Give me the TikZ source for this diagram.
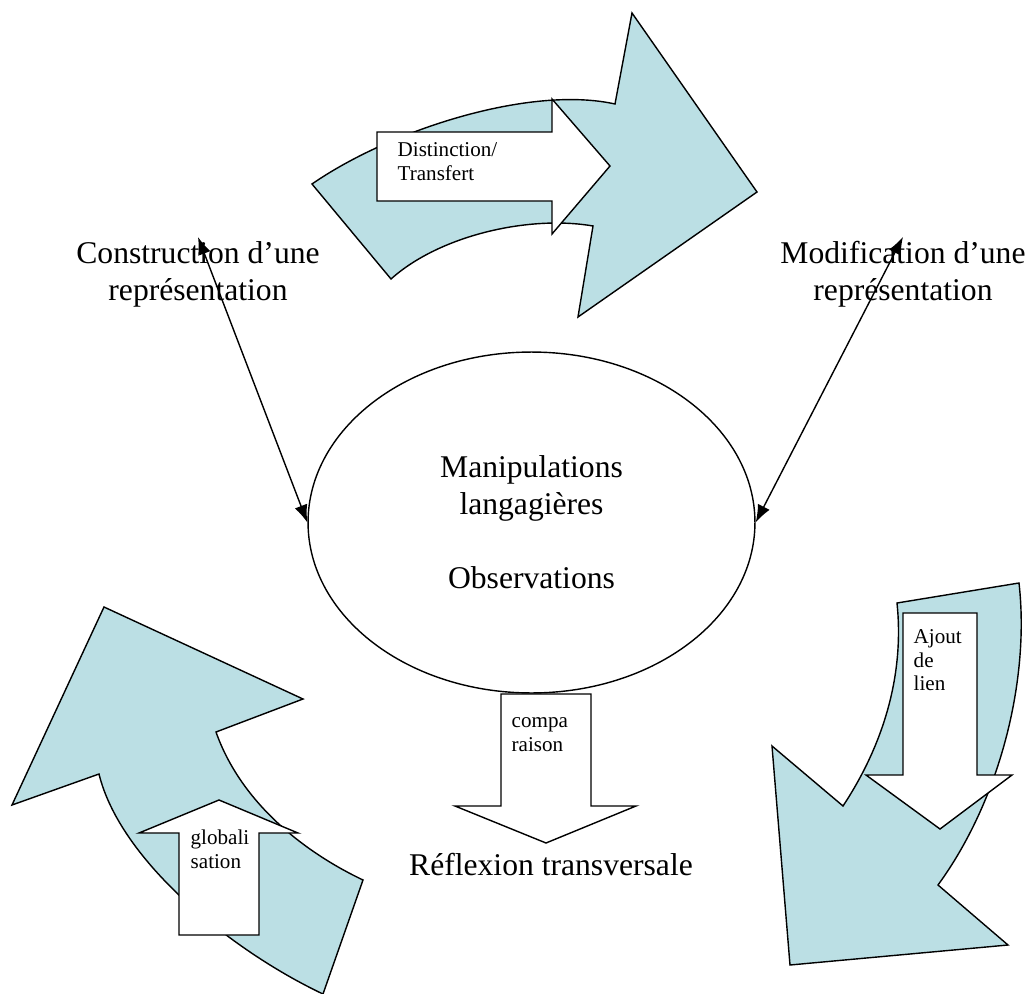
\documentclass[tikz,border=0pt]{standalone}
\usepackage{fontspec}
\setmainfont{Liberation Serif}
\usetikzlibrary{shapes.geometric, arrows.meta}
\definecolor{bandblue}{RGB}{187,223,228}

\begin{document}
\begin{tikzpicture}[x=0.02cm, y=-0.02cm, line width=0.8pt, line join=miter,
  band/.style={draw, fill=bandblue},
  blockarrow/.style={draw, fill=white},
  bigtext/.style={font=\fontsize{18}{21}\selectfont, align=center, inner sep=2pt},
  smalltext/.style={font=\fontsize{12}{13.2}\selectfont, align=left, anchor=north west, inner sep=0pt},
  link/.style={{Latex[length=10pt,width=7.5pt]}-{Latex[length=10pt,width=7.5pt]}}]
  \useasboundingbox (0,0) rectangle (1025,994);

  % curved band arrows
  \draw[band] (391,279) -- (312,184) .. controls (390,130) and (530,85) .. (615,104)
    -- (632,13) -- (757,192) -- (578,317) -- (593,226)
    .. controls (530,215) and (440,235) .. (391,279) -- cycle;
  \draw[band] (99,774) -- (12,805) -- (104,607) -- (303,699) -- (216,732)
    .. controls (240,800) and (300,850) .. (363,880) -- (323,994)
    .. controls (230,950) and (120,860) .. (99,774) -- cycle;
  \draw[band] (897,603) -- (1019,583) .. controls (1030,680) and (1000,800) .. (938,885)
    -- (1008,945) -- (790,965) -- (772,746) -- (843,806)
    .. controls (880,750) and (905,680) .. (897,603) -- cycle;

  % white block arrows
  \draw[blockarrow] (377,132) -- (552,132) -- (552,99) -- (610,166) -- (552,234) -- (552,201) -- (377,201) -- cycle;
  \draw[blockarrow] (179,935) -- (179,833) -- (139,833) -- (219,800) -- (298,833) -- (259,833) -- (259,935) -- cycle;
  \draw[blockarrow] (903,613) -- (977,613) -- (977,775) -- (1012,775) -- (940,829) -- (866,775) -- (903,775) -- cycle;
  \draw[blockarrow] (501,694) -- (591,694) -- (591,806) -- (636,806) -- (546,843) -- (455,806) -- (501,806) -- cycle;

  \node[smalltext] (distinc) at (397,140) {\strut Distinction/\\Transfert};
  \node[smalltext] (global) at (190,828) {\strut globali\\sation};
  \node[smalltext] (ajout) at (913,627) {\strut Ajout\\de\\lien};
  \node[smalltext] (compa) at (511,711) {\strut compa\\raison};

  % centre and labels
  \node[bigtext, draw, ellipse, minimum width=8.94cm, minimum height=6.82cm, inner sep=0pt] (obs) at (531.5,522.5)
    {Manipulations\\langagières\\[21pt]Observations};
  \node[bigtext] (constr) at (198,274) {Construction d’une\\représentation};
  \node[bigtext] (modif) at (903,274) {Modification d’une\\représentation};
  \node[bigtext, anchor=base] (reflex) at (551,875) {Réflexion transversale};

  \draw[link] (constr.north) -- (obs.west);
  \draw[link] (modif.north) -- (obs.east);
\end{tikzpicture}
\end{document}
